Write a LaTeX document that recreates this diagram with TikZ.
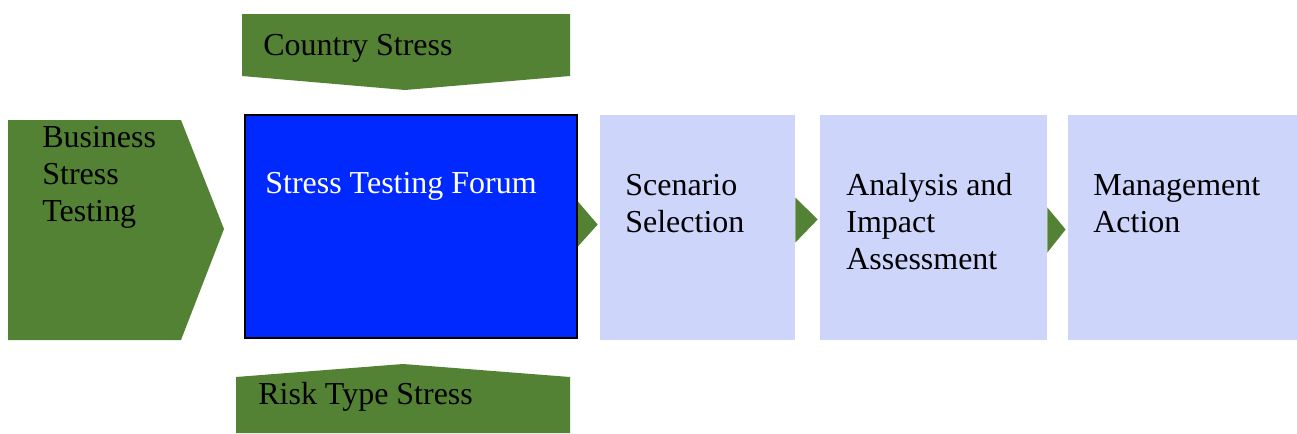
\documentclass[tikz,border=0pt]{standalone}
\usepackage{fontspec}
\setmainfont{Liberation Serif}
\usetikzlibrary{fit,calc}
\definecolor{stressgreen}{HTML}{548235}
\definecolor{forumblue}{HTML}{0029FF}
\definecolor{steplilac}{HTML}{CDD5FB}
\tikzset{
	greenshape/.style={fill=stressgreen, draw=none},
	stepbox/.style={fill=steplilac, draw=none, inner sep=0pt},
	boxtext/.style={anchor=base west, align=left, inner sep=0pt, font=\fontsize{18.2}{21}\selectfont},
}
\begin{document}
\begin{tikzpicture}[x=0.02cm, y=-0.02cm]
	\useasboundingbox (0,0) rectangle (1297,433);
	% green chevrons round the forum
	\fill[greenshape] (8,120) -- (181,120) -- (224,229) -- (181,340) -- (8,340) -- cycle;
	\fill[greenshape] (242,14) -- (570,14) -- (570,76) -- (405,90) -- (242,76) -- cycle;
	\fill[greenshape] (236,377) -- (403,364) -- (570,377) -- (570,433) -- (236,433) -- cycle;
	\node[boxtext] (business) at (42,221) {Business\\Stress\\Testing};
	\node[boxtext] (country) at (263,55) {Country Stress};
	\node[boxtext] (risk) at (258,404) {Risk Type Stress};
	% process boxes
	\node[fill=forumblue, draw=black, line width=1pt, inner sep=0pt, fit={(245,115) (577,338)}] (forum) {};
	\node[stepbox, fit={(600,115) (795,340)}] (scenario) {};
	\node[stepbox, fit={(820,115) (1047,340)}] (analysis) {};
	\node[stepbox, fit={(1068,115) (1297,340)}] (action) {};
	\node[boxtext, text=white] (forumtext) at (265,193) {Stress Testing Forum};
	\node[boxtext] (scenariotext) at (625,232) {Scenario\\Selection};
	\node[boxtext] (analysistext) at (846,269) {Analysis and\\Impact\\Assessment};
	\node[boxtext] (actiontext) at (1093,232) {Management\\Action};
	% small arrows between the boxes
	\foreach \a/\b/\dy in {forum/scenario/-3, scenario/analysis/-8, analysis/action/2}
	{
		\fill[greenshape] ($(\a.east)+(0,\dy-22)$) -- ($(\b.west)+(-2,\dy)$) -- ($(\a.east)+(0,\dy+23)$) -- cycle;
	}
\end{tikzpicture}
\end{document}
